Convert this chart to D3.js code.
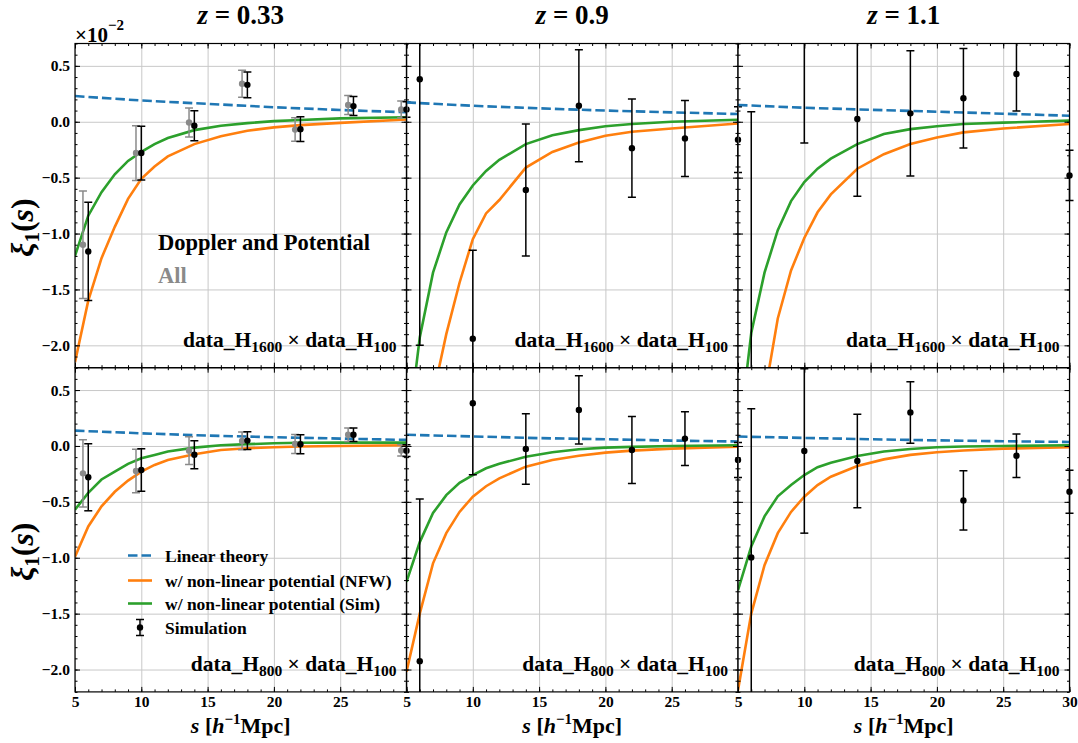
<!DOCTYPE html>
<html><head><meta charset="utf-8">
<script src="https://cdn.jsdelivr.net/npm/d3@7"></script>
<style>
body{margin:0;background:#fff;}
svg{display:block;}
text{font-family:"Liberation Serif","Times New Roman",serif;font-weight:bold;}
</style></head><body>
<svg id="chart" width="1078" height="743"></svg>
<script>
// ---------------- data ----------------
const redshifts = ["0.33", "0.9", "1.1"];
const haloPairs = [["1600", "100"], ["800", "100"]];
const xTicks = [5, 10, 15, 20, 25, 30];
const yTicks = [-2.0, -1.5, -1.0, -0.5, 0.0, 0.5];
const xDomain = [5, 30];
const yDomain = [-2.2, 0.7];
const legendLabels = ["Linear theory", "w/ non-linear potential (NFW)", "w/ non-linear potential (Sim)", "Simulation"];

const sCurve = [5, 6, 7, 8, 9, 10, 11, 12, 14, 16, 18, 20, 22, 25, 30];
const sLinear = [5, 10, 15, 20, 25, 30];
const sPoints = [6, 10, 14, 18, 22, 26, 30];
const sPointsAll = [5.6, 9.6, 13.6, 17.6, 21.6, 25.6, 29.6];

// data_H1600 x data_H100 (values in units of 1e-2)
const linear_H1600_z033 = [0.23, 0.19, 0.16, 0.13, 0.105, 0.085];
const nfw_H1600_z033 = [-2.15, -1.6, -1.22, -0.94, -0.69, -0.51, -0.4, -0.31, -0.2, -0.13, -0.08, -0.05, -0.03, -0.01, 0.02];
const sim_H1600_z033 = [-1.2, -0.84, -0.63, -0.47, -0.35, -0.27, -0.2, -0.145, -0.075, -0.036, -0.012, 0.006, 0.016, 0.03, 0.04];
const pts_H1600_z033 = [-1.16, -0.28, -0.036, 0.33, -0.066, 0.14, 0.11];
const err_H1600_z033 = [0.44, 0.24, 0.135, 0.115, 0.11, 0.085, 0.07];
const all_H1600_z033 = [-1.10, -0.28, -0.006, 0.34, -0.07, 0.15, 0.11];
const allErr_H1600_z033 = [0.48, 0.245, 0.13, 0.12, 0.105, 0.085, 0.075];

const linear_H1600_z09 = [0.173, 0.143, 0.12, 0.1, 0.084, 0.069];
const nfw_H1600_z09 = [-4.8, -3.4, -2.45, -1.9, -1.44, -1.05, -0.82, -0.7, -0.41, -0.27, -0.185, -0.125, -0.09, -0.06, -0.015];
const sim_H1600_z09 = [-2.9, -1.93, -1.35, -0.99, -0.74, -0.57, -0.44, -0.34, -0.2, -0.12, -0.075, -0.04, -0.02, 0.0, 0.018];
const pts_H1600_z09 = [0.38, -1.94, -0.61, 0.143, -0.236, -0.149, -0.16];
const err_H1600_z09 = [2.38, 0.79, 0.59, 0.5, 0.44, 0.34, 0.295];

const linear_H1600_z11 = [0.15, 0.125, 0.107, 0.09, 0.072, 0.054];
const nfw_H1600_z11 = [-4.8, -3.4, -2.45, -1.76, -1.33, -1.04, -0.81, -0.65, -0.42, -0.29, -0.2, -0.14, -0.095, -0.06, -0.02];
const sim_H1600_z11 = [-2.9, -1.89, -1.35, -0.97, -0.71, -0.54, -0.42, -0.33, -0.2, -0.11, -0.066, -0.04, -0.02, -0.008, 0.01];
const pts_H1600_z11 = [-2.5, 1.0, 0.024, 0.075, 0.21, 0.427, -0.48];
const err_H1600_z11 = [2.59, 1.19, 0.69, 0.56, 0.445, 0.33, 0.225];

// data_H800 x data_H100
const linear_H800_z033 = [0.137, 0.113, 0.093, 0.078, 0.066, 0.054];
const nfw_H800_z033 = [-0.99, -0.72, -0.54, -0.41, -0.31, -0.23, -0.17, -0.125, -0.075, -0.036, -0.02, -0.012, -0.005, 0.0, 0.006];
const sim_H800_z033 = [-0.57, -0.42, -0.3, -0.23, -0.16, -0.11, -0.08, -0.05, -0.015, 0.006, 0.016, 0.024, 0.028, 0.03, 0.03];
const pts_H800_z033 = [-0.28, -0.215, -0.078, 0.048, 0.015, 0.1, -0.042];
const err_H800_z033 = [0.3, 0.19, 0.125, 0.08, 0.085, 0.06, 0.053];
const all_H800_z033 = [-0.245, -0.224, -0.042, 0.045, 0.018, 0.1, -0.04];
const allErr_H800_z033 = [0.3, 0.195, 0.125, 0.08, 0.085, 0.06, 0.05];

const linear_H800_z09 = [0.1, 0.085, 0.07, 0.06, 0.048, 0.04];
const nfw_H800_z09 = [-2.02, -1.5, -1.05, -0.78, -0.59, -0.454, -0.36, -0.29, -0.185, -0.125, -0.087, -0.06, -0.042, -0.024, -0.006];
const sim_H800_z09 = [-1.215, -0.86, -0.6, -0.44, -0.33, -0.26, -0.2, -0.16, -0.096, -0.057, -0.03, -0.015, -0.008, 0.0, 0.006];
const pts_H800_z09 = [-1.925, 0.382, -0.027, 0.322, -0.036, 0.066, -0.125];
const err_H800_z09 = [1.45, 0.64, 0.315, 0.305, 0.3, 0.24, 0.157];

const linear_H800_z11 = [0.084, 0.072, 0.06, 0.05, 0.042, 0.036];
const nfw_H800_z11 = [-2.185, -1.5, -1.066, -0.78, -0.59, -0.454, -0.35, -0.275, -0.18, -0.12, -0.08, -0.057, -0.04, -0.024, -0.012];
const sim_H800_z11 = [-1.29, -0.9, -0.63, -0.45, -0.35, -0.26, -0.19, -0.15, -0.09, -0.05, -0.027, -0.012, -0.005, 0.0, 0.006];
const pts_H800_z11 = [-0.997, -0.045, -0.134, 0.3, -0.487, -0.087, -0.41];
const err_H800_z11 = [1.33, 0.735, 0.418, 0.275, 0.265, 0.195, 0.193];

// ---------------- layout ----------------
const svg = d3.select("#chart");
const FONT = '"Liberation Serif","Times New Roman",serif';
const left0 = 75, top0 = 43.5, pw = 331.5, ph = 324.2;
const C = {linear: "#1f77b4", nfw: "#ff7f0e", sim: "#2ca02c", all: "#8a8a8a", dp: "#000000", grid: "#c8c8c8"};

const panels = [
  {row: 0, col: 0, linear: linear_H1600_z033, nfw: nfw_H1600_z033, sim: sim_H1600_z033, pts: pts_H1600_z033, err: err_H1600_z033, all: all_H1600_z033, allErr: allErr_H1600_z033},
  {row: 0, col: 1, linear: linear_H1600_z09, nfw: nfw_H1600_z09, sim: sim_H1600_z09, pts: pts_H1600_z09, err: err_H1600_z09},
  {row: 0, col: 2, linear: linear_H1600_z11, nfw: nfw_H1600_z11, sim: sim_H1600_z11, pts: pts_H1600_z11, err: err_H1600_z11},
  {row: 1, col: 0, linear: linear_H800_z033, nfw: nfw_H800_z033, sim: sim_H800_z033, pts: pts_H800_z033, err: err_H800_z033, all: all_H800_z033, allErr: allErr_H800_z033},
  {row: 1, col: 1, linear: linear_H800_z09, nfw: nfw_H800_z09, sim: sim_H800_z09, pts: pts_H800_z09, err: err_H800_z09},
  {row: 1, col: 2, linear: linear_H800_z11, nfw: nfw_H800_z11, sim: sim_H800_z11, pts: pts_H800_z11, err: err_H800_z11}
];

const defs = svg.append("defs");
const x = d3.scaleLinear().domain(xDomain).range([0, pw]);
const y = d3.scaleLinear().domain(yDomain).range([ph, 0]);
const minorX = d3.range(xDomain[0], xDomain[1] + 0.5, 1);
const minorY = d3.range(-22, 8).map(v => v / 10);
const fmtY = v => v.toFixed(1).replace("-", "\u2212");

function styleAxis(sel) {
  sel.select(".domain").remove();
  sel.selectAll("line").attr("stroke", "#000").attr("stroke-width", 1);
  sel.attr("font-family", FONT).attr("font-size", 15.5).attr("font-weight", "bold");
  sel.selectAll("text").attr("fill", "#000");
}

function errorbars(g, xs, vals, errs, color) {
  const data = xs.map((s, i) => ({s, v: vals[i], e: errs[i]}));
  const eg = g.append("g");
  eg.selectAll("line.bar").data(data).join("line")
    .attr("x1", d => x(d.s)).attr("x2", d => x(d.s))
    .attr("y1", d => y(d.v - d.e)).attr("y2", d => y(d.v + d.e))
    .attr("stroke", color).attr("stroke-width", 1.5);
  ["lo", "hi"].forEach(k => {
    eg.selectAll("line.cap" + k).data(data).join("line")
      .attr("x1", d => x(d.s) - 4).attr("x2", d => x(d.s) + 4)
      .attr("y1", d => y(k === "lo" ? d.v - d.e : d.v + d.e))
      .attr("y2", d => y(k === "lo" ? d.v - d.e : d.v + d.e))
      .attr("stroke", color).attr("stroke-width", 1.5);
  });
  eg.selectAll("circle").data(data).join("circle")
    .attr("cx", d => x(d.s)).attr("cy", d => y(d.v)).attr("r", 3.2).attr("fill", color);
}

panels.forEach((p, i) => {
  const x0 = left0 + p.col * pw, y0 = top0 + p.row * ph;
  const g = svg.append("g").attr("transform", `translate(${x0},${y0})`);
  defs.append("clipPath").attr("id", "cl" + i).append("rect").attr("width", pw).attr("height", ph);
  defs.append("clipPath").attr("id", "cp" + i).append("rect").attr("x", -8).attr("width", pw + 16).attr("height", ph);

  // grid
  g.append("g").call(d3.axisBottom(x).tickValues(xTicks).tickSize(ph).tickFormat(""))
    .call(s => { s.select(".domain").remove(); s.selectAll("line").attr("stroke", C.grid).attr("stroke-width", 1); });
  g.append("g").call(d3.axisRight(y).tickValues(yTicks).tickSize(pw).tickFormat(""))
    .call(s => { s.select(".domain").remove(); s.selectAll("line").attr("stroke", C.grid).attr("stroke-width", 1); });

  // curves
  const line = d3.line().x(d => x(d[0])).y(d => y(d[1]));
  const cg = g.append("g").attr("clip-path", `url(#cl${i})`);
  cg.append("path").datum(d3.zip(sLinear, p.linear)).attr("d", line)
    .attr("fill", "none").attr("stroke", C.linear).attr("stroke-width", 2.6).attr("stroke-dasharray", "9.5,4");
  cg.append("path").datum(d3.zip(sCurve, p.nfw)).attr("d", line)
    .attr("fill", "none").attr("stroke", C.nfw).attr("stroke-width", 2.6);
  cg.append("path").datum(d3.zip(sCurve, p.sim)).attr("d", line)
    .attr("fill", "none").attr("stroke", C.sim).attr("stroke-width", 2.6);

  // points
  const pg = g.append("g").attr("clip-path", `url(#cp${i})`);
  if (p.all) errorbars(pg, sPointsAll, p.all, p.allErr, C.all);
  errorbars(pg, sPoints, p.pts, p.err, C.dp);

  // ticks
  const showX = v => (p.row === 1 && (v < 30 || p.col === 2)) ? String(v) : "";
  g.append("g").attr("transform", `translate(0,${ph})`)
    .call(d3.axisBottom(x).tickValues(xTicks).tickSizeInner(-5).tickSizeOuter(0).tickPadding(4).tickFormat(showX)).call(styleAxis);
  g.append("g").attr("transform", `translate(0,${ph})`)
    .call(d3.axisBottom(x).tickValues(minorX).tickSizeInner(-2.5).tickSizeOuter(0).tickFormat("")).call(styleAxis);
  g.append("g").call(d3.axisTop(x).tickValues(xTicks).tickSizeInner(-5).tickSizeOuter(0).tickFormat("")).call(styleAxis);
  g.append("g").call(d3.axisTop(x).tickValues(minorX).tickSizeInner(-2.5).tickSizeOuter(0).tickFormat("")).call(styleAxis);
  g.append("g").call(d3.axisLeft(y).tickValues(yTicks).tickSizeInner(-5).tickSizeOuter(0).tickPadding(5)
    .tickFormat(p.col === 0 ? fmtY : "")).call(styleAxis);
  g.append("g").call(d3.axisLeft(y).tickValues(minorY).tickSizeInner(-2.5).tickSizeOuter(0).tickFormat("")).call(styleAxis);
  g.append("g").attr("transform", `translate(${pw},0)`)
    .call(d3.axisRight(y).tickValues(yTicks).tickSizeInner(-5).tickSizeOuter(0).tickFormat("")).call(styleAxis);
  g.append("g").attr("transform", `translate(${pw},0)`)
    .call(d3.axisRight(y).tickValues(minorY).tickSizeInner(-2.5).tickSizeOuter(0).tickFormat("")).call(styleAxis);

  // frame
  g.append("rect").attr("width", pw).attr("height", ph).attr("fill", "none").attr("stroke", "#000").attr("stroke-width", 1.2);

  // halo pair label
  const hp = haloPairs[p.row];
  const t = g.append("text").attr("x", pw - 10).attr("y", ph - 21).attr("text-anchor", "end")
    .attr("font-size", 21.5).attr("fill", "#000");
  t.append("tspan").text("data_H");
  t.append("tspan").attr("font-size", 15.5).attr("dy", 5).text(hp[0]);
  t.append("tspan").attr("dy", -5).text(" \u00d7 data_H");
  t.append("tspan").attr("font-size", 15.5).attr("dy", 5).text(hp[1]);
});

// column titles and x labels
redshifts.forEach((z, c) => {
  const cx = left0 + c * pw + pw / 2;
  const t = svg.append("text").attr("x", cx).attr("y", 24).attr("text-anchor", "middle").attr("font-size", 27);
  t.append("tspan").attr("font-style", "italic").text("z");
  t.append("tspan").text(" = " + z);
  const xl = svg.append("text").attr("x", cx).attr("y", 733).attr("text-anchor", "middle").attr("font-size", 22);
  xl.append("tspan").attr("font-style", "italic").text("s");
  xl.append("tspan").text(" [");
  xl.append("tspan").attr("font-style", "italic").text("h");
  xl.append("tspan").attr("font-size", 15).attr("dy", -9).text("\u22121");
  xl.append("tspan").attr("dy", 9).text("Mpc]");
});

// y labels
[0, 1].forEach(r => {
  const cy = top0 + r * ph + ph / 2 + 22;
  const t = svg.append("text").attr("transform", `translate(33,${cy}) rotate(-90)`)
    .attr("text-anchor", "middle").attr("font-size", 32);
  t.append("tspan").attr("font-style", "italic").text("\u03be");
  t.append("tspan").attr("font-size", 21).attr("dy", 6).text("1");
  t.append("tspan").attr("dy", -6).text("(");
  t.append("tspan").attr("font-style", "italic").text("s");
  t.append("tspan").text(")");
});

// offset label
const off = svg.append("text").attr("x", 75).attr("y", 41.5).attr("font-size", 21).attr("font-weight", "normal");
off.append("tspan").text("\u00d710");
off.append("tspan").attr("font-size", 15).attr("dy", -12).text("\u22122");

// annotations in top-left
svg.append("text").attr("x", 158).attr("y", 250).attr("font-size", 22.5).attr("fill", "#000").text("Doppler and Potential");
svg.append("text").attr("x", 158).attr("y", 282.5).attr("font-size", 22.5).attr("fill", C.all).text("All");

// legend in bottom-left
const lg = svg.append("g");
const rowsY = [555.5, 580.5, 603.5, 627.5];
const lx0 = 128, lx1 = 152;
lg.append("line").attr("x1", lx0).attr("x2", lx1).attr("y1", rowsY[0]).attr("y2", rowsY[0])
  .attr("stroke", C.linear).attr("stroke-width", 2.6).attr("stroke-dasharray", "9.5,4");
lg.append("line").attr("x1", lx0).attr("x2", lx1).attr("y1", rowsY[1]).attr("y2", rowsY[1])
  .attr("stroke", C.nfw).attr("stroke-width", 2.6);
lg.append("line").attr("x1", lx0).attr("x2", lx1).attr("y1", rowsY[2]).attr("y2", rowsY[2])
  .attr("stroke", C.sim).attr("stroke-width", 2.6);
const mx = (lx0 + lx1) / 2;
lg.append("line").attr("x1", mx).attr("x2", mx).attr("y1", rowsY[3] - 8).attr("y2", rowsY[3] + 8).attr("stroke", "#000").attr("stroke-width", 1.5);
lg.append("line").attr("x1", mx - 4).attr("x2", mx + 4).attr("y1", rowsY[3] - 8).attr("y2", rowsY[3] - 8).attr("stroke", "#000").attr("stroke-width", 1.5);
lg.append("line").attr("x1", mx - 4).attr("x2", mx + 4).attr("y1", rowsY[3] + 8).attr("y2", rowsY[3] + 8).attr("stroke", "#000").attr("stroke-width", 1.5);
lg.append("circle").attr("cx", mx).attr("cy", rowsY[3]).attr("r", 3.2).attr("fill", "#000");
legendLabels.forEach((l, i) => {
  lg.append("text").attr("x", 165).attr("y", rowsY[i]).attr("dy", "0.35em").attr("font-size", 17.5).attr("fill", "#000").text(l);
});
</script>
</body></html>
